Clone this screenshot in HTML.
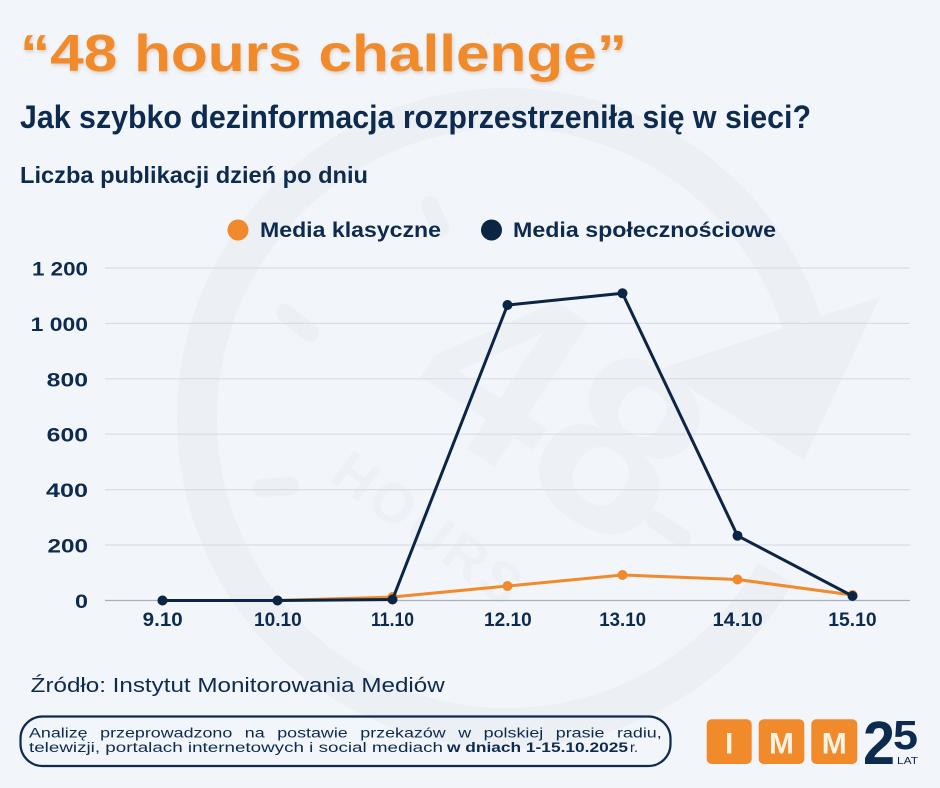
<!DOCTYPE html>
<html>
<head>
<meta charset="utf-8">
<style>
  html,body{margin:0;padding:0;background:#F2F5F9;}
  svg{display:block;}
  text{font-family:"Liberation Sans", Arial, sans-serif;}
</style>
</head>
<body>
<svg width="940" height="788" viewBox="0 0 940 788" xmlns="http://www.w3.org/2000/svg">
  <defs>
    <filter id="sh" x="-5%" y="-20%" width="110%" height="140%">
      <feDropShadow dx="1" dy="2" stdDeviation="1.5" flood-color="#8a6a4a" flood-opacity="0.25"/>
    </filter>
  </defs>
  <rect width="940" height="788" fill="#F2F5F9"/>

  <!-- watermark -->
  <g fill="none" stroke="#ECEFF3" stroke-width="40" stroke-linecap="butt">
    <path d="M 775.5 573 A 310 310 0 1 1 801.8 322.2"/>
  </g>
  <polygon points="659,369 880,297 804,460" fill="#ECEFF3"/>
  <g stroke="#ECEFF3" stroke-width="18" stroke-linecap="round">
    <line x1="285" y1="313" x2="310" y2="333"/>
    <line x1="262" y1="488" x2="290" y2="486"/>
    <line x1="655" y1="520" x2="682" y2="538"/>
    <line x1="430" y1="205" x2="440" y2="228"/>
  </g>
  <g fill="#EDF0F4">
    <text x="0" y="0" font-size="250" font-weight="bold" text-anchor="middle" transform="translate(515,480) rotate(33)">48</text>
    <text x="0" y="0" font-size="56" font-weight="bold" text-anchor="middle" letter-spacing="4" transform="translate(418,545) rotate(36)">HOURS</text>
  </g>

  <!-- titles -->
  <text x="20" y="71" font-size="52" font-weight="bold" fill="#F08A2C" textLength="607" lengthAdjust="spacingAndGlyphs" filter="url(#sh)">“48 hours challenge”</text>
  <text x="20" y="128" font-size="32" font-weight="bold" fill="#0D2A4F" textLength="791" lengthAdjust="spacingAndGlyphs">Jak szybko dezinformacja rozprzestrzeniła się w sieci?</text>
  <text x="20" y="183" font-size="23" font-weight="bold" fill="#0D2A4F" textLength="348" lengthAdjust="spacingAndGlyphs">Liczba publikacji dzień po dniu</text>

  <!-- legend -->
  <circle cx="238" cy="230" r="10.5" fill="#F08A2C"/>
  <text x="260" y="237" font-size="21" font-weight="bold" fill="#0D2A4F" textLength="181" lengthAdjust="spacingAndGlyphs">Media klasyczne</text>
  <circle cx="491.5" cy="230" r="10.5" fill="#0B2545"/>
  <text x="513" y="237" font-size="21" font-weight="bold" fill="#0D2A4F" textLength="263" lengthAdjust="spacingAndGlyphs">Media społecznościowe</text>

  <!-- gridlines -->
  <g stroke="#DADEE4" stroke-width="1.2">
    <line x1="105" y1="268" x2="910" y2="268"/>
    <line x1="105" y1="323.4" x2="910" y2="323.4"/>
    <line x1="105" y1="378.8" x2="910" y2="378.8"/>
    <line x1="105" y1="434.2" x2="910" y2="434.2"/>
    <line x1="105" y1="489.6" x2="910" y2="489.6"/>
    <line x1="105" y1="545" x2="910" y2="545"/>
  </g>
  <line x1="105" y1="600.5" x2="910" y2="600.5" stroke="#A9B1BE" stroke-width="1.3"/>

  <!-- y labels -->
  <g font-size="19.5" font-weight="bold" fill="#0D2A4F">
    <text x="32" y="275.5" textLength="56" lengthAdjust="spacingAndGlyphs">1 200</text>
    <text x="30.7" y="330.9" textLength="57.3" lengthAdjust="spacingAndGlyphs">1 000</text>
    <text x="46.7" y="386.3" textLength="41.3" lengthAdjust="spacingAndGlyphs">800</text>
    <text x="46.7" y="441.7" textLength="41.3" lengthAdjust="spacingAndGlyphs">600</text>
    <text x="46" y="497.1" textLength="42" lengthAdjust="spacingAndGlyphs">400</text>
    <text x="47.5" y="552.5" textLength="40.5" lengthAdjust="spacingAndGlyphs">200</text>
    <text x="75" y="608" textLength="13" lengthAdjust="spacingAndGlyphs">0</text>
  </g>

  <!-- x labels -->
  <g font-size="19.5" font-weight="bold" fill="#0D2A4F">
    <text x="142.7" y="626" textLength="40" lengthAdjust="spacingAndGlyphs">9.10</text>
    <text x="254" y="626" textLength="47.7" lengthAdjust="spacingAndGlyphs">10.10</text>
    <text x="371" y="626" textLength="43" lengthAdjust="spacingAndGlyphs">11.10</text>
    <text x="484" y="626" textLength="47.7" lengthAdjust="spacingAndGlyphs">12.10</text>
    <text x="599.3" y="626" textLength="46.7" lengthAdjust="spacingAndGlyphs">13.10</text>
    <text x="712.7" y="626" textLength="50" lengthAdjust="spacingAndGlyphs">14.10</text>
    <text x="828.3" y="626" textLength="48.3" lengthAdjust="spacingAndGlyphs">15.10</text>
  </g>

  <!-- orange series -->
  <polyline points="162.5,600.5 277.5,600.5 392.5,597 507.5,586 622.5,575 737.5,579.5 852.5,595" fill="none" stroke="#F08A2C" stroke-width="3" stroke-linejoin="round"/>
  <g fill="#F08A2C">
    <circle cx="162.5" cy="600.5" r="5"/>
    <circle cx="277.5" cy="600.5" r="5"/>
    <circle cx="392.5" cy="597" r="5"/>
    <circle cx="507.5" cy="586" r="5"/>
    <circle cx="622.5" cy="575" r="5"/>
    <circle cx="737.5" cy="579.5" r="5"/>
    <circle cx="852.5" cy="595" r="5"/>
  </g>

  <!-- navy series -->
  <polyline points="162.5,600.5 277.5,600.5 392.5,599.5 507.5,305 622.5,293.3 737.5,535.7 852.5,596" fill="none" stroke="#0B2545" stroke-width="3" stroke-linejoin="round"/>
  <g fill="#0B2545">
    <circle cx="162.5" cy="600.5" r="5"/>
    <circle cx="277.5" cy="600.5" r="5"/>
    <circle cx="392.5" cy="599.5" r="5"/>
    <circle cx="507.5" cy="305" r="5"/>
    <circle cx="622.5" cy="293.3" r="5"/>
    <circle cx="737.5" cy="535.7" r="5"/>
    <circle cx="852.5" cy="596" r="5"/>
  </g>

  <!-- source -->
  <text x="30.7" y="692" font-size="20.5" fill="#0D2A4F" textLength="414" lengthAdjust="spacingAndGlyphs">Źródło: Instytut Monitorowania Mediów</text>

  <!-- note box -->
  <rect x="20.5" y="716.5" width="650" height="49.5" rx="22" ry="22" fill="none" stroke="#0D2A4F" stroke-width="2.2"/>
  <g font-size="14.2" fill="#0D2A4F">
    <text x="29" y="737.5" textLength="632.7" lengthAdjust="spacingAndGlyphs" word-spacing="6">Analizę przeprowadzono na postawie przekazów w polskiej prasie radiu,</text>
    <text y="752"><tspan x="29" textLength="414" lengthAdjust="spacingAndGlyphs">telewizji, portalach internetowych i social mediach</tspan><tspan x="447" font-weight="bold" textLength="181" lengthAdjust="spacingAndGlyphs">w dniach 1-15.10.2025</tspan><tspan x="630" textLength="8" lengthAdjust="spacingAndGlyphs">r.</tspan></text>
  </g>

  <!-- logo -->
  <g fill="#F18A2B">
    <rect x="706.7" y="719.3" width="45" height="44.7" rx="5"/>
    <rect x="758.7" y="719.3" width="45.6" height="44.7" rx="5"/>
    <rect x="811.3" y="719.3" width="46" height="44.7" rx="5"/>
  </g>
  <g font-size="30" font-weight="bold" fill="#FFF4E2" text-anchor="middle">
    <text x="729.2" y="753.5">I</text>
    <text x="781.5" y="753.5">M</text>
    <text x="834.3" y="753.5">M</text>
  </g>
  <text x="863" y="764" font-size="61" font-weight="bold" fill="#0D2A4F" textLength="32" lengthAdjust="spacingAndGlyphs">2</text>
  <text x="893" y="749" font-size="41" font-weight="bold" fill="#0D2A4F" textLength="25" lengthAdjust="spacingAndGlyphs">5</text>
  <text x="897" y="764" font-size="10" fill="#0D2A4F" textLength="21" lengthAdjust="spacingAndGlyphs">LAT</text>
</svg>
</body>
</html>
